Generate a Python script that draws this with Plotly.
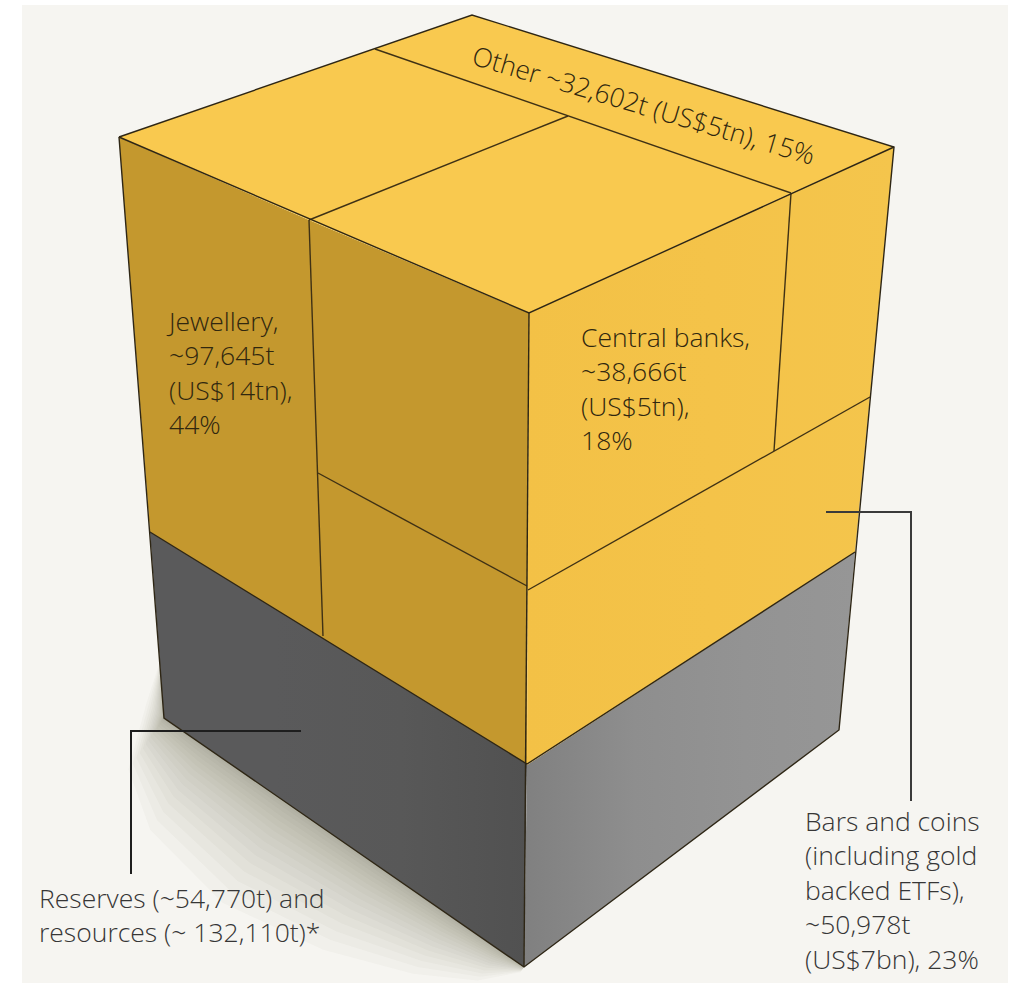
import math
import plotly.graph_objects as go

# Above-ground gold by use
categories = ["Jewellery", "Central banks", "Bars and coins", "Other"]
tonnes = [97645, 38666, 50978, 32602]
usd_value = ["US$14tn", "US$5tn", "US$7bn", "US$5tn"]
share_pct = [44, 18, 23, 15]

# Gold still underground
reserves_t = 54770
resources_t = 132110

# Corners of the block, in chart units
top_face_x = [119, 472, 894, 791, 529, 309]
top_face_y = [137, 15, 147, 193, 313, 220]
gold_left_x = [119, 309, 529, 527, 150]
gold_left_y = [137, 220, 313, 764, 532]
gold_right_x = [529, 791, 894, 855, 527]
gold_right_y = [313, 193, 147, 552, 765]
grey_left_x = [150, 527, 524, 164]
grey_left_y = [532, 762, 967, 718]
grey_right_x = [527, 855, 839, 524]
grey_right_y = [765, 552, 730, 967]

# Division lines between the segments
dividers = [
    ([375, 791], [49, 193]),
    ([309, 568], [220, 116]),
    ([309, 323], [220, 636]),
    ([318, 527], [473, 586]),
    ([791, 774], [193, 451]),
    ([528, 870], [590, 397]),
]
# Block outline
outline = [
    ([119, 472, 894, 839, 524, 164, 119], [137, 15, 147, 730, 967, 718, 137]),
    ([119, 529, 894], [137, 313, 147]),
    ([529, 524], [313, 967]),
    ([150, 527, 855], [532, 764, 552]),
]

# Ground shadow: how far each layer spreads from the base edge
shadow_reach = [125, 110, 97, 85, 74, 64, 55, 47, 39, 32, 26, 20, 15, 10, 6, 3]
# Taper along the base edge, from its left end to the front corner
shadow_taper = [(0.0, 0.5), (0.12, 0.8), (0.35, 0.95), (0.6, 0.8), (0.8, 0.55), (0.93, 0.3), (1.0, 0.05)]
base_left = (164, 718)
base_front = (524, 967)

# Leader lines
reserves_leader = ([301, 131, 131], [731, 731, 874])
bars_leader = ([826, 911, 911], [512, 512, 801])

PAGE = "#F6F5F1"
TEXT_ON_GOLD = "#30270F"
TEXT_ON_PAGE = "#363636"
FONT = "Open Sans"
FONT_SIZE = 26.5


def face(xs, ys, colors):
    stops = [[i / (len(colors) - 1), c] for i, c in enumerate(colors)]
    return go.Scatter(
        x=xs + xs[:1], y=ys + ys[:1], mode="lines", line=dict(width=0),
        fill="toself", fillgradient=dict(type="horizontal", colorscale=stops),
        hoverinfo="skip", showlegend=False,
    )


def stroke(xs, ys, color, width):
    return go.Scatter(
        x=xs, y=ys, mode="lines", line=dict(color=color, width=width),
        hoverinfo="skip", showlegend=False,
    )


def shadow_layer(reach):
    dx, dy = base_front[0] - base_left[0], base_front[1] - base_left[1]
    length = math.hypot(dx, dy)
    px, py = -dy / length, dx / length
    xs = [162, base_left[0] - 0.14 * reach]
    ys = [655, base_left[1] - 0.12 * reach]
    for t, k in shadow_taper:
        xs.append(base_left[0] + dx * t + px * reach * k)
        ys.append(base_left[1] + dy * t + py * reach * k)
    xs += [base_front[0], base_left[0]]
    ys += [base_front[1], base_left[1]]
    return xs, ys


fig = go.Figure()

for reach in shadow_reach:
    ring_x, ring_y = shadow_layer(reach)
    fig.add_trace(go.Scatter(
        x=ring_x + ring_x[:1], y=ring_y + ring_y[:1], mode="lines", line=dict(width=0),
        fill="toself", fillcolor="rgba(60,60,50,0.026)", hoverinfo="skip", showlegend=False,
    ))

fig.add_trace(face(grey_left_x, grey_left_y, ["#5A5A5B", "#5A5A5B", "#585858", "#515151"]))
fig.add_trace(face(grey_right_x, grey_right_y, ["#808080", "#8E8E8E", "#939393", "#969696"]))
fig.add_trace(face(gold_left_x, gold_left_y, ["#C4982E", "#C4982E"]))
fig.add_trace(face(gold_right_x, gold_right_y, ["#F3C146", "#F4C349", "#F4C54C"]))
fig.add_trace(face(top_face_x, top_face_y, ["#F9C94F", "#F9C94F"]))

for xs, ys in dividers:
    fig.add_trace(stroke(xs, ys, "#3F3115", 1.4))
for xs, ys in outline:
    fig.add_trace(stroke(xs, ys, "#2E2615", 1.4))

fig.add_trace(stroke(*reserves_leader, "#1E1E1E", 2))
fig.add_trace(stroke(*bars_leader, "#3A3A3A", 2))


def label(x, y, lines, color, angle=0, xanchor="left"):
    fig.add_annotation(
        x=x, y=y, text="<br>".join(lines), align="left", showarrow=False,
        xanchor=xanchor, yanchor="middle", borderpad=0, textangle=angle,
        font=dict(family=FONT, size=FONT_SIZE, weight=300, color=color),
    )


jewellery, central, bars, other = range(4)
label(165, 372,
      [f"{categories[jewellery]},", f"~{tonnes[jewellery]:,}t", f"({usd_value[jewellery]}),", f"{share_pct[jewellery]}%"],
      TEXT_ON_GOLD)
label(580, 388,
      [f"{categories[central]},", f"~{tonnes[central]:,}t", f"({usd_value[central]}),", f"{share_pct[central]}%"],
      TEXT_ON_GOLD)
label(644, 105, [f"{categories[other]} ~{tonnes[other]:,}t ({usd_value[other]}), {share_pct[other]}%"],
      TEXT_ON_GOLD, angle=16.5, xanchor="center")
label(804, 890,
      [categories[bars], "(including gold", "backed ETFs),", f"~{tonnes[bars]:,}t", f"({usd_value[bars]}), {share_pct[bars]}%"],
      TEXT_ON_PAGE)
label(38, 915, [f"Reserves (~{reserves_t:,}t) and", f"resources (~ {resources_t:,}t)*"], TEXT_ON_PAGE)

fig.update_layout(
    width=1015, height=983, margin=dict(l=0, r=0, t=0, b=0),
    paper_bgcolor="#FFFFFF", plot_bgcolor="#FFFFFF", showlegend=False,
    xaxis=dict(range=[0, 1015], visible=False, fixedrange=True),
    yaxis=dict(range=[983, 0], visible=False, fixedrange=True),
    shapes=[dict(type="rect", xref="x", yref="y", x0=22, x1=1008, y0=5, y1=983,
                 fillcolor=PAGE, line=dict(width=0), layer="below")],
)

fig.write_html("out.html")
